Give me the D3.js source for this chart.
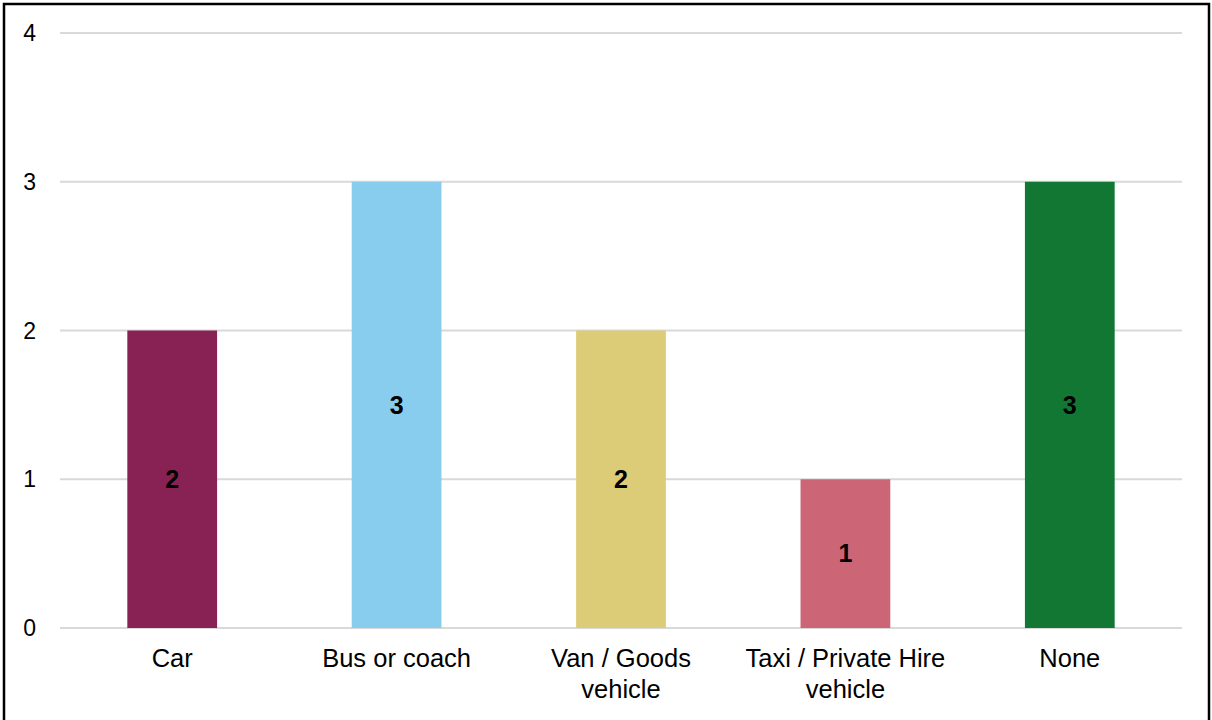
<!DOCTYPE html>
<html>
<head>
<meta charset="utf-8">
<script src="https://cdn.jsdelivr.net/npm/d3@7"></script>
<style>
html, body { margin: 0; padding: 0; background: #fff; }
svg { display: block; }
</style>
</head>
<body>
<svg id="chart" width="1212" height="720"></svg>
<script>
const categories = [["Car"], ["Bus or coach"], ["Van / Goods", "vehicle"], ["Taxi / Private Hire", "vehicle"], ["None"]];
const values = [2, 3, 2, 1, 3];
const colors = ["#882255", "#88CCEE", "#DDCC77", "#CC6677", "#117733"];
const yTicks = [0, 1, 2, 3, 4];

const svg = d3.select("#chart");
const font = "'Liberation Sans', Arial, sans-serif";

svg.append("rect").attr("x", 4).attr("y", 4).attr("width", 1205).attr("height", 730)
  .attr("fill", "#fff").attr("stroke", "#000").attr("stroke-width", 2.5);

const keys = categories.map((c, i) => i);
const x = d3.scaleBand().domain(keys).range([60, 1182]).paddingInner(0.6).paddingOuter(0.3);
const y = d3.scaleLinear().domain([0, 4]).range([628, 33]);

// gridlines
svg.append("g").selectAll("line").data(yTicks).join("line")
  .attr("x1", 60).attr("x2", 1182)
  .attr("y1", d => y(d)).attr("y2", d => y(d))
  .attr("stroke", "#d9d9d9").attr("stroke-width", 2);

// y axis labels
svg.append("g").selectAll("text").data(yTicks).join("text")
  .attr("x", 36).attr("y", d => y(d)).attr("dy", "0.35em")
  .attr("text-anchor", "end").attr("font-family", font).attr("font-size", 23).attr("fill", "#000")
  .text(d => d);

// bars
svg.append("g").selectAll("rect").data(values).join("rect")
  .attr("x", (d, i) => x(i)).attr("width", x.bandwidth())
  .attr("y", d => y(d)).attr("height", d => y(0) - y(d))
  .attr("fill", (d, i) => colors[i]);

// data labels
svg.append("g").selectAll("text").data(values).join("text")
  .attr("x", (d, i) => x(i) + x.bandwidth() / 2)
  .attr("y", d => (y(d) + y(0)) / 2).attr("dy", "0.35em")
  .attr("text-anchor", "middle").attr("font-family", font).attr("font-size", 25)
  .attr("font-weight", "bold").attr("fill", "#000")
  .text(d => d);

// category labels
const cat = svg.append("g").selectAll("text").data(categories).join("text")
  .attr("x", (d, i) => x(i) + x.bandwidth() / 2)
  .attr("y", 667)
  .attr("text-anchor", "middle").attr("font-family", font).attr("font-size", 25.5).attr("fill", "#000");
cat.selectAll("tspan").data(d => d).join("tspan")
  .attr("x", function() { return d3.select(this.parentNode).attr("x"); })
  .attr("dy", (d, j) => j === 0 ? 0 : 31)
  .text(d => d);
</script>
</body>
</html>
